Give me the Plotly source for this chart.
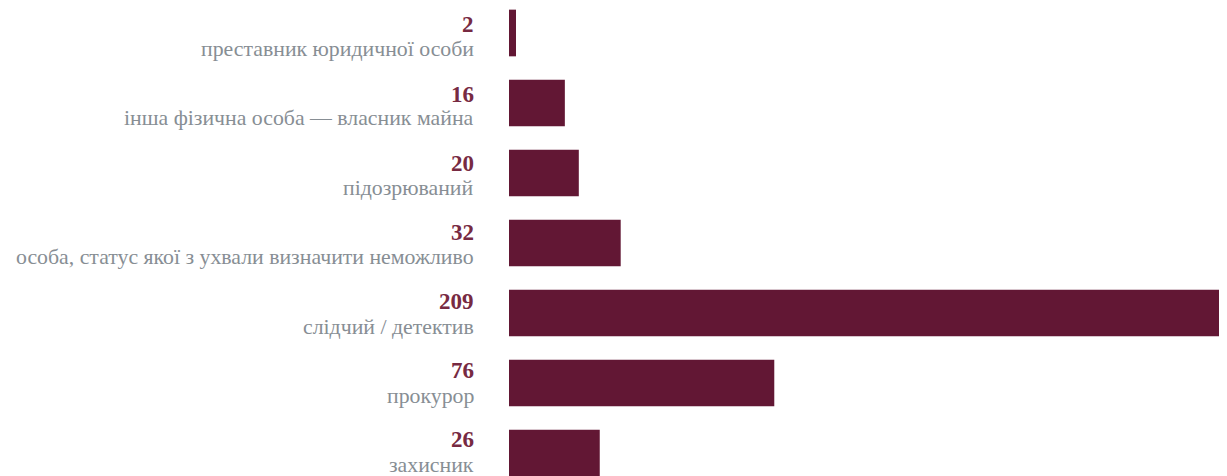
import plotly.graph_objects as go

categories = [
    "преставник юридичної особи",
    "інша фізична особа — власник майна",
    "підозрюваний",
    "особа, статус якої з ухвали визначити неможливо",
    "слідчий / детектив",
    "прокурор",
    "захисник",
]
values = [2, 16, 20, 32, 209, 76, 26]

BAR = "#621734"
NUM = "#772a42"
TXT = "#878e94"
FONT = "Liberation Serif"

pos = list(range(len(categories)))

fig = go.Figure(go.Bar(
    x=values, y=pos, orientation="h",
    marker=dict(color=BAR, line=dict(width=0)),
    width=0.667, hoverinfo="skip",
))

ann = []
for p, c, v in zip(pos, categories, values):
    # label rows sit on a slightly tighter pitch than the bars in the reference
    ann.append(dict(x=0, y=p, xref="x", yref="y", text=f"<b>{v}</b>",
                    showarrow=False, xanchor="right", yanchor="middle",
                    xshift=-33, yshift=8 + 0.95 * p,
                    font=dict(family=FONT, size=23, color=NUM)))
    ann.append(dict(x=0, y=p, xref="x", yref="y", text=c,
                    showarrow=False, xanchor="right", yanchor="middle",
                    xshift=-33, yshift=-16 + 0.6 * p,
                    font=dict(family=FONT, size=21.8, color=TXT)))

# page body has an 8px margin; compensate so the plot sits where the reference is
fig.update_layout(
    width=1219, height=468,
    margin=dict(l=501, r=0, t=0, b=0),
    paper_bgcolor="white", plot_bgcolor="white",
    showlegend=False,
    xaxis=dict(range=[0, 205.7], visible=False, fixedrange=True),
    yaxis=dict(range=[6.329, -0.357], visible=False, fixedrange=True),
    annotations=ann,
)
fig.write_html("out.html", config={"displayModeBar": False})
